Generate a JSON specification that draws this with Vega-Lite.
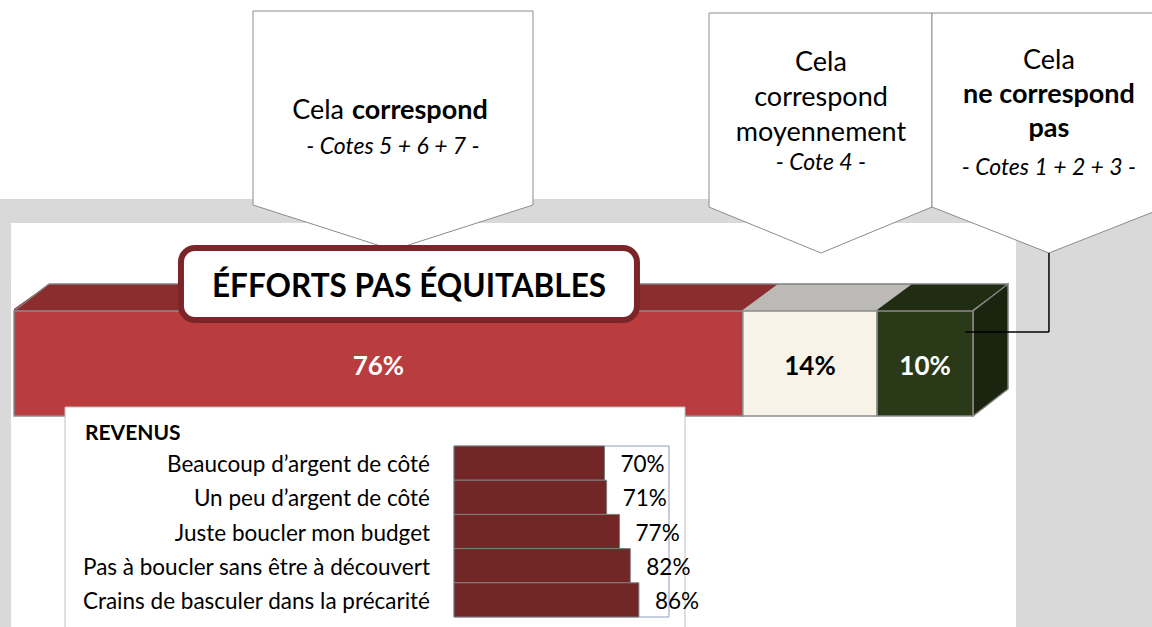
{
  "$schema": "https://vega.github.io/schema/vega-lite/v6.json",
  "width": 1152,
  "height": 627,
  "autosize": {"type": "none"},
  "padding": 0,
  "background": "white",
  "config": {"view": {"stroke": null}, "font": "Lato", "text": {"font": "Lato", "color": "black"}},
  "datasets": {
    "segments": [
      {"segment": "Cela correspond", "cotes": "5 + 6 + 7", "pct": 0.76, "order": 1},
      {"segment": "Cela correspond moyennement", "cotes": "4", "pct": 0.14, "order": 2},
      {"segment": "Cela ne correspond pas", "cotes": "1 + 2 + 3", "pct": 0.10, "order": 3}
    ],
    "revenus": [
      {"revenu": "Beaucoup d’argent de côté", "pct": 0.70},
      {"revenu": "Un peu d’argent de côté ", "pct": 0.71},
      {"revenu": "Juste  boucler mon budget", "pct": 0.77},
      {"revenu": "Pas à boucler sans être à découvert", "pct": 0.82},
      {"revenu": "Crains de basculer dans la précarité", "pct": 0.86}
    ],
    "one": [{}]
  },
  "resolve": {"scale": {"x": "independent", "y": "independent", "color": "independent"}},
  "layer": [
    {
      "resolve": {"scale": {"color": "independent"}},
      "layer": [
        {
          "data": {"name": "one"},
          "mark": {"type": "rect", "color": "#d9d9d9"},
          "encoding": {
            "x": {"datum": -0.0146, "type": "quantitative", "scale": {"domain": [0, 1], "range": [14, 973], "nice": false, "zero": false}, "axis": null},
            "x2": {"datum": 1.1867},
            "y": {"datum": 199, "type": "quantitative", "scale": {"domain": [0, 627], "range": [0, 627], "nice": false, "zero": false}, "axis": null},
            "y2": {"datum": 640}
          }
        },
        {
          "data": {"name": "one"},
          "mark": {"type": "rect", "color": "white"},
          "encoding": {
            "x": {"datum": -0.0031, "type": "quantitative", "axis": null},
            "x2": {"datum": 1.0448},
            "y": {"datum": 223, "type": "quantitative", "axis": null},
            "y2": {"datum": 640}
          }
        },
        {
          "data": {"name": "one"},
          "mark": {"type": "point", "shape": "M-140,-45 L-140,-239 L140,-239 L140,-45 L0,0 Z", "size": 4, "filled": true, "fill": "white", "stroke": "#8c8c8c", "strokeWidth": 1, "opacity": 1},
          "encoding": {
            "x": {"datum": 0.3952, "type": "quantitative", "axis": null},
            "y": {"datum": 250, "type": "quantitative", "axis": null}
          }
        },
        {
          "data": {"name": "one"},
          "mark": {"type": "point", "shape": "M-112,-46 L-112,-240 L111,-240 L111,-46 L0,0 Z", "size": 4, "filled": true, "fill": "white", "stroke": "#8c8c8c", "strokeWidth": 1, "opacity": 1},
          "encoding": {
            "x": {"datum": 0.8415, "type": "quantitative", "axis": null},
            "y": {"datum": 253, "type": "quantitative", "axis": null}
          }
        },
        {
          "data": {"name": "one"},
          "mark": {"type": "point", "shape": "M-117,-46 L-117,-240 L117,-240 L117,-46 L0,0 Z", "size": 4, "filled": true, "fill": "white", "stroke": "#8c8c8c", "strokeWidth": 1, "opacity": 1},
          "encoding": {
            "x": {"datum": 1.0792, "type": "quantitative", "axis": null},
            "y": {"datum": 253, "type": "quantitative", "axis": null}
          }
        },
        {
          "data": {"name": "one"},
          "mark": {"type": "text", "text": "Cela", "fontSize": 27, "align": "right", "baseline": "alphabetic"},
          "encoding": {"x": {"datum": 0.3441, "type": "quantitative", "axis": null}, "y": {"datum": 119, "type": "quantitative", "axis": null}}
        },
        {
          "data": {"name": "one"},
          "mark": {"type": "text", "text": "correspond", "fontSize": 27, "fontWeight": "bold", "align": "left", "baseline": "alphabetic"},
          "encoding": {"x": {"datum": 0.3525, "type": "quantitative", "axis": null}, "y": {"datum": 119, "type": "quantitative", "axis": null}}
        },
        {
          "data": {"name": "one"},
          "mark": {"type": "text", "text": "- Cotes 5 + 6 + 7 -", "fontSize": 23, "fontStyle": "italic", "align": "center", "baseline": "alphabetic"},
          "encoding": {"x": {"datum": 0.3952, "type": "quantitative", "axis": null}, "y": {"datum": 154, "type": "quantitative", "axis": null}}
        },
        {
          "data": {"name": "one"},
          "mark": {"type": "text", "text": ["Cela", "correspond", "moyennement"], "lineHeight": 35, "fontSize": 27, "align": "center", "baseline": "alphabetic"},
          "encoding": {"x": {"datum": 0.8415, "type": "quantitative", "axis": null}, "y": {"datum": 71, "type": "quantitative", "axis": null}}
        },
        {
          "data": {"name": "one"},
          "mark": {"type": "text", "text": "- Cote 4 -", "fontSize": 23, "fontStyle": "italic", "align": "center", "baseline": "alphabetic"},
          "encoding": {"x": {"datum": 0.8415, "type": "quantitative", "axis": null}, "y": {"datum": 170, "type": "quantitative", "axis": null}}
        },
        {
          "data": {"name": "one"},
          "mark": {"type": "text", "text": "Cela", "fontSize": 27, "align": "center", "baseline": "alphabetic"},
          "encoding": {"x": {"datum": 1.0792, "type": "quantitative", "axis": null}, "y": {"datum": 69, "type": "quantitative", "axis": null}}
        },
        {
          "data": {"name": "one"},
          "mark": {"type": "text", "text": ["ne correspond", "pas"], "lineHeight": 34, "fontSize": 27, "fontWeight": "bold", "align": "center", "baseline": "alphabetic"},
          "encoding": {"x": {"datum": 1.0792, "type": "quantitative", "axis": null}, "y": {"datum": 103, "type": "quantitative", "axis": null}}
        },
        {
          "data": {"name": "one"},
          "mark": {"type": "text", "text": "- Cotes 1 + 2 + 3 -", "fontSize": 23, "fontStyle": "italic", "align": "center", "baseline": "alphabetic"},
          "encoding": {"x": {"datum": 1.0792, "type": "quantitative", "axis": null}, "y": {"datum": 175, "type": "quantitative", "axis": null}}
        },
        {
          "data": {"name": "segments"},
          "transform": [{"stack": "pct", "groupby": [], "sort": [{"field": "order", "order": "ascending"}], "as": ["x0", "x1"]}],
          "mark": {"type": "rect"},
          "encoding": {
            "x": {"field": "x0", "type": "quantitative", "axis": null},
            "x2": {"field": "x1"},
            "y": {"datum": 284, "type": "quantitative", "axis": null},
            "y2": {"datum": 311},
            "color": {"field": "segment", "type": "nominal", "legend": null, "scale": {"domain": ["Cela correspond", "Cela correspond moyennement", "Cela ne correspond pas"], "range": ["#8b2c2e", "#bbbab6", "#202d13"]}}
          }
        },
        {
          "data": {"name": "segments"},
          "transform": [{"stack": "pct", "groupby": [], "sort": [{"field": "order", "order": "ascending"}], "as": ["x0", "x1"]}],
          "mark": {"type": "point", "shape": "M-1.5,0 L35,-27 L-1.5,-27 Z", "size": 4, "filled": true, "opacity": 1, "strokeWidth": 0},
          "encoding": {
            "x": {"field": "x1", "type": "quantitative", "axis": null},
            "y": {"datum": 311, "type": "quantitative", "axis": null},
            "color": {"field": "segment", "type": "nominal", "legend": null, "scale": {"domain": ["Cela correspond", "Cela correspond moyennement", "Cela ne correspond pas"], "range": ["#8b2c2e", "#bbbab6", "#202d13"]}}
          }
        },
        {
          "data": {"name": "one"},
          "mark": {"type": "point", "shape": "M-3,0 L35,-27 L-3,-27 Z", "size": 4, "filled": true, "fill": "white", "opacity": 1, "strokeWidth": 0},
          "encoding": {"x": {"datum": 0, "type": "quantitative", "axis": null}, "y": {"datum": 311, "type": "quantitative", "axis": null}}
        },
        {
          "data": {"name": "one"},
          "mark": {"type": "point", "shape": "M0,0 L0,105 L35,78 L35,-27 Z", "size": 4, "filled": true, "fill": "#1a240f", "stroke": "#7f7f7f", "strokeWidth": 1.5, "opacity": 1},
          "encoding": {"x": {"datum": 1, "type": "quantitative", "axis": null}, "y": {"datum": 311, "type": "quantitative", "axis": null}}
        },
        {
          "data": {"name": "segments"},
          "transform": [{"stack": "pct", "groupby": [], "sort": [{"field": "order", "order": "ascending"}], "as": ["x0", "x1"]}],
          "mark": {"type": "rect", "stroke": "#8c8c8c", "strokeWidth": 1.5},
          "encoding": {
            "x": {"field": "x0", "type": "quantitative", "axis": null},
            "x2": {"field": "x1"},
            "y": {"datum": 311, "type": "quantitative", "axis": null},
            "y2": {"datum": 416},
            "color": {"field": "segment", "type": "nominal", "legend": null, "scale": {"domain": ["Cela correspond", "Cela correspond moyennement", "Cela ne correspond pas"], "range": ["#b93c3e", "#f7f3e9", "#2a3a18"]}}
          }
        },
        {
          "data": {"name": "one"},
          "mark": {"type": "rule", "color": "#7f7f7f", "strokeWidth": 1.5},
          "encoding": {"x": {"datum": 0.0365, "type": "quantitative", "axis": null}, "x2": {"datum": 1.0365}, "y": {"datum": 284, "type": "quantitative", "axis": null}}
        },
        {
          "data": {"name": "one"},
          "mark": {"type": "point", "shape": "M0,0 L35,-27", "size": 4, "filled": false, "stroke": "#7f7f7f", "strokeWidth": 1.5, "opacity": 1},
          "encoding": {"x": {"datum": 0, "type": "quantitative", "axis": null}, "y": {"datum": 311, "type": "quantitative", "axis": null}}
        },
        {
          "data": {"name": "segments"},
          "transform": [
            {"stack": "pct", "groupby": [], "sort": [{"field": "order", "order": "ascending"}], "as": ["x0", "x1"]},
            {"fold": ["x0", "x1"], "as": ["bord", "pos"]},
            {"aggregate": [{"op": "mean", "field": "pos", "as": "milieu"}], "groupby": ["segment", "pct", "order"]}
          ],
          "mark": {"type": "text", "fontSize": 26, "fontWeight": "bold", "align": "center", "baseline": "alphabetic"},
          "encoding": {
            "x": {"field": "milieu", "type": "quantitative", "axis": null},
            "y": {"datum": 375, "type": "quantitative", "axis": null},
            "text": {"field": "pct", "type": "quantitative", "format": ".0%"},
            "color": {"condition": {"test": "datum.order == 2", "value": "black"}, "value": "white"}
          }
        },
        {
          "data": {"name": "one"},
          "mark": {"type": "rect", "fill": "white", "stroke": "#7b2528", "strokeWidth": 6, "cornerRadius": 14},
          "encoding": {"x": {"datum": 0.1741, "type": "quantitative", "axis": null}, "x2": {"datum": 0.6496}, "y": {"datum": 248, "type": "quantitative", "axis": null}, "y2": {"datum": 320}}
        },
        {
          "data": {"name": "one"},
          "mark": {"type": "text", "text": "ÉFFORTS PAS ÉQUITABLES", "fontSize": 31.5, "fontWeight": "bold", "align": "center", "baseline": "alphabetic"},
          "encoding": {"x": {"datum": 0.4119, "type": "quantitative", "axis": null}, "y": {"datum": 297, "type": "quantitative", "axis": null}}
        },
        {
          "data": {"name": "one"},
          "mark": {"type": "rule", "color": "black", "strokeWidth": 1.5},
          "encoding": {"x": {"datum": 1.0792, "type": "quantitative", "axis": null}, "y": {"datum": 253, "type": "quantitative", "axis": null}, "y2": {"datum": 332}}
        },
        {
          "data": {"name": "one"},
          "mark": {"type": "rule", "color": "black", "strokeWidth": 1.5},
          "encoding": {"x": {"datum": 0.9917, "type": "quantitative", "axis": null}, "x2": {"datum": 1.0792}, "y": {"datum": 332, "type": "quantitative", "axis": null}}
        },
        {
          "data": {"name": "one"},
          "mark": {"type": "rect", "fill": "white", "stroke": "#bfbfbf", "strokeWidth": 1},
          "encoding": {"x": {"datum": 0.0532, "type": "quantitative", "axis": null}, "x2": {"datum": 0.6997}, "y": {"datum": 407, "type": "quantitative", "axis": null}, "y2": {"datum": 640}}
        },
        {
          "data": {"name": "one"},
          "mark": {"type": "text", "text": "REVENUS", "fontSize": 21, "fontWeight": "bold", "align": "left", "baseline": "alphabetic"},
          "encoding": {"x": {"datum": 0.074, "type": "quantitative", "axis": null}, "y": {"datum": 440, "type": "quantitative", "axis": null}}
        },
        {
          "data": {"name": "one"},
          "mark": {"type": "rect", "filled": false, "stroke": "#8e9fbd", "strokeWidth": 1},
          "encoding": {"x": {"datum": 0.4588, "type": "quantitative", "axis": null}, "x2": {"datum": 0.683}, "y": {"datum": 446, "type": "quantitative", "axis": null}, "y2": {"datum": 617}}
        }
      ]
    },
    {
      "data": {"name": "revenus"},
      "layer": [
        {
          "mark": {"type": "bar", "color": "#722626", "stroke": "#7f7f7f", "strokeWidth": 1},
          "encoding": {
            "x": {"field": "pct", "type": "quantitative", "axis": null, "scale": {"domain": [0, 1], "range": [454, 669], "nice": false, "zero": false}},
            "y": {"field": "revenu", "type": "nominal", "axis": null, "sort": null, "scale": {"type": "band", "range": [446, 617], "paddingInner": 0, "paddingOuter": 0}}
          }
        },
        {
          "mark": {"type": "text", "fontSize": 22.5, "align": "right", "baseline": "middle", "dx": -24, "dy": 2},
          "encoding": {
            "x": {"datum": 0, "type": "quantitative", "axis": null},
            "y": {"field": "revenu", "type": "nominal", "axis": null, "sort": null},
            "text": {"field": "revenu", "type": "nominal"}
          }
        },
        {
          "mark": {"type": "text", "fontSize": 22.5, "align": "left", "baseline": "middle", "dx": 16, "dy": 2},
          "encoding": {
            "x": {"field": "pct", "type": "quantitative", "axis": null},
            "y": {"field": "revenu", "type": "nominal", "axis": null, "sort": null},
            "text": {"field": "pct", "type": "quantitative", "format": ".0%"}
          }
        }
      ]
    }
  ]
}
